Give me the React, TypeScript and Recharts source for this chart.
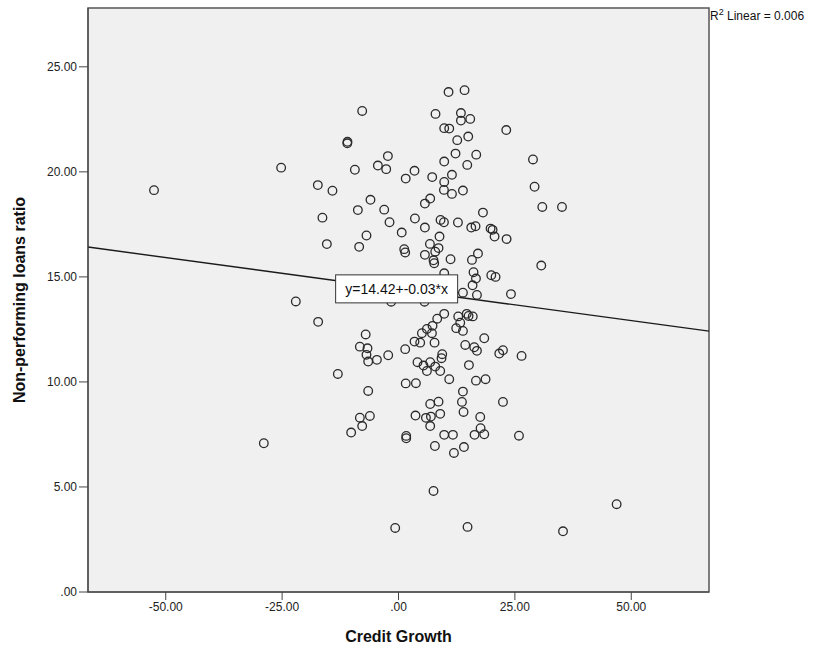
import React from 'react';
import {
  ScatterChart, Scatter, XAxis, YAxis, ReferenceLine, ReferenceArea, ReferenceDot, Label,
} from 'recharts';

// Credit growth (x) and non-performing loans ratio (y)
const creditGrowth = [
  -7.80, -10.96, -11.0, -25.21, -52.52, -2.28, -4.43, -2.64, -9.37, 1.55,
  -17.33, -14.19, -6.02, -8.73, -3.07, -1.93, -16.34, 0.69, -6.88, -15.39,
  -8.45, 1.23, 1.44, -22.06, -1.57, -17.26, 10.75, 14.19, 7.95, 13.41,
  13.41, 15.41, 9.82, 10.90, 23.15, 12.62, 14.98, 12.25, 16.70, 28.89,
  9.82, 14.77, 3.44, 7.24, 11.48, 9.82, 9.76, 11.48, 13.84, 29.23,
  6.81, 5.67, 30.89, 35.12, 18.14, 3.53, 9.03, 9.76, 12.77, 5.67,
  15.63, 16.55, 19.78, 20.21, 20.64, 23.22, 8.81, 6.75, 8.60, 7.89,
  5.67, 7.52, 7.67, 11.18, 17.07, 15.78, 30.67, 16.12, 16.64, 19.93,
  20.85, 15.91, 13.84, 16.85, 24.16, 9.82, 5.59, 9.82, 12.83, 14.66,
  15.05, 15.95, 8.32, -7.05, -8.30, -6.66, -6.88, -6.51, -4.64, -2.21,
  1.44, -13.03, 1.55, -6.51, -8.30, -6.15, -7.80, -10.17, 1.66, 1.66,
  -28.93, -0.71, 13.26, 12.40, 13.84, 7.31, 6.10, 5.03, 7.18, 3.44,
  4.66, 7.74, 18.42, 14.34, 16.27, 16.85, 21.65, 22.44, 26.44, 9.39,
  9.24, 4.08, 5.37, 6.81, 6.10, 7.89, 8.96, 15.13, 10.90, 3.74,
  16.64, 18.70, 13.84, 13.63, 8.60, 6.81, 22.44, 13.97, 3.65, 5.89,
  6.96, 8.96, 6.81, 17.56, 17.63, 9.82, 11.69, 16.34, 18.42, 25.88,
  7.82, 14.06, 11.91, 7.52, 46.86, 14.83, 35.34,
];
const nplRatio = [
  22.90, 21.43, 21.36, 20.20, 19.13, 20.75, 20.30, 20.13, 20.10, 19.68,
  19.37, 19.10, 18.67, 18.18, 18.20, 17.60, 17.82, 17.11, 16.97, 16.56,
  16.43, 16.32, 16.16, 13.83, 13.82, 12.86, 23.80, 23.89, 22.76, 22.80,
  22.44, 22.52, 22.08, 22.06, 21.99, 21.51, 21.68, 20.87, 20.82, 20.59,
  20.49, 20.33, 20.05, 19.75, 19.86, 19.52, 19.14, 18.95, 19.11, 19.29,
  18.73, 18.49, 18.33, 18.33, 18.06, 17.78, 17.71, 17.60, 17.59, 17.35,
  17.35, 17.41, 17.30, 17.24, 16.92, 16.80, 16.92, 16.57, 16.37, 16.20,
  16.05, 15.79, 15.65, 15.84, 16.11, 15.81, 15.54, 15.22, 14.92, 15.08,
  15.00, 14.60, 14.25, 14.14, 14.18, 15.17, 13.82, 13.24, 13.12, 13.24,
  13.14, 13.12, 13.01, 12.26, 11.68, 11.60, 11.29, 10.97, 11.05, 11.27,
  11.56, 10.38, 9.93, 9.57, 8.30, 8.38, 7.90, 7.59, 7.43, 7.32,
  7.08, 3.05, 12.82, 12.56, 12.43, 12.67, 12.52, 12.32, 12.32, 11.92,
  11.87, 11.87, 12.08, 11.76, 11.65, 11.48, 11.35, 11.51, 11.24, 11.32,
  11.13, 10.94, 10.78, 10.94, 10.52, 10.73, 10.52, 10.80, 10.13, 9.94,
  10.06, 10.13, 9.54, 9.05, 9.06, 8.95, 9.05, 8.57, 8.40, 8.29,
  8.35, 8.48, 7.90, 8.33, 7.80, 7.48, 7.48, 7.48, 7.51, 7.44,
  6.95, 6.90, 6.62, 4.81, 4.18, 3.10, 2.89,
];

const xTicks = [-50, -25, 0, 25, 50];
const yTicks = [0, 5, 10, 15, 20, 25];
const xDomain = [-66.7, 66.7];
const yDomain = [0, 27.8];

// Linear fit reported on the chart
const fitIntercept = 14.42;
const fitSlope = -0.03;
const fitLabel = 'y=14.42+-0.03*x';
const fitLabelAt = { x: -0.4, y: 14.43 };
const r2Text = ' Linear = 0.006';

const points = creditGrowth.map((x, i) => ({ x, y: nplRatio[i] }));
const fitSegment = [
  { x: xDomain[0], y: fitIntercept + fitSlope * xDomain[0] },
  { x: xDomain[1], y: fitIntercept + fitSlope * xDomain[1] },
];

const fmt = (v: number) => {
  const s = v.toFixed(2);
  if (s.startsWith('0.')) return s.slice(1);
  return s;
};

const FONT = '"Liberation Sans", Arial, sans-serif';

const Ring = (props: any) => {
  const { cx, cy } = props;
  if (cx == null || cy == null) return null;
  return <circle cx={cx} cy={cy} r={4.3} fill="none" stroke="#2a2a2a" strokeWidth={1.3} />;
};

const FitBox = (props: any) => {
  const { cx, cy } = props;
  if (cx == null || cy == null) return null;
  const w = 122;
  const h = 28;
  return (
    <g>
      <rect x={cx - w / 2} y={cy - h / 2} width={w} height={h} fill="#ffffff" stroke="#333" strokeWidth={1} />
      <text x={cx} y={cy + 5} textAnchor="middle" fontFamily={FONT} fontSize={14} fill="#111">
        {fitLabel}
      </text>
    </g>
  );
};

export default function App() {
  return (
    <div style={{ position: 'absolute', left: 0, top: 0, width: 824, height: 653, background: '#fff' }}>
      <ScatterChart
        width={824}
        height={653}
        margin={{ top: 8, right: 115, bottom: 31, left: 28 }}
      >
        <ReferenceArea
          x1={xDomain[0]}
          x2={xDomain[1]}
          y1={yDomain[0]}
          y2={yDomain[1]}
          fill="#f0f0f0"
          fillOpacity={1}
          stroke="#555"
          strokeWidth={1.5}
          ifOverflow="visible"
        />
        <XAxis
          type="number"
          dataKey="x"
          domain={xDomain}
          ticks={xTicks}
          tickFormatter={fmt}
          allowDataOverflow
          height={30}
          tickSize={8}
          stroke="#444"
          tick={{ fill: '#222', fontSize: 12, fontFamily: FONT }}
        >
          <Label
            value="Credit Growth"
            position="insideBottom"
            offset={-20}
            style={{ fontFamily: FONT, fontSize: 16, fontWeight: 'bold', fill: '#111' }}
          />
        </XAxis>
        <YAxis
          type="number"
          dataKey="y"
          domain={yDomain}
          ticks={yTicks}
          tickFormatter={fmt}
          allowDataOverflow
          width={60}
          tickSize={9}
          stroke="#444"
          tick={{ fill: '#222', fontSize: 12, fontFamily: FONT }}
        >
          <Label
            value="Non-performing loans ratio"
            angle={-90}
            position="insideLeft"
            offset={-9}
            style={{ textAnchor: 'middle', fontFamily: FONT, fontSize: 16, fontWeight: 'bold', fill: '#111' }}
          />
        </YAxis>
        <ReferenceLine segment={fitSegment} stroke="#1a1a1a" strokeWidth={1.4} ifOverflow="visible" />
        <Scatter data={points} shape={Ring} isAnimationActive={false} />
        <ReferenceDot x={fitLabelAt.x} y={fitLabelAt.y} shape={FitBox} ifOverflow="visible" />
      </ScatterChart>
      <div
        style={{
          position: 'absolute',
          left: 710,
          top: 9,
          fontFamily: FONT,
          fontSize: 12,
          color: '#111',
          whiteSpace: 'nowrap',
          lineHeight: '14px',
        }}
      >
        R<span style={{ fontSize: 9, verticalAlign: 'super', lineHeight: 0 }}>2</span>
        {r2Text}
      </div>
    </div>
  );
}
